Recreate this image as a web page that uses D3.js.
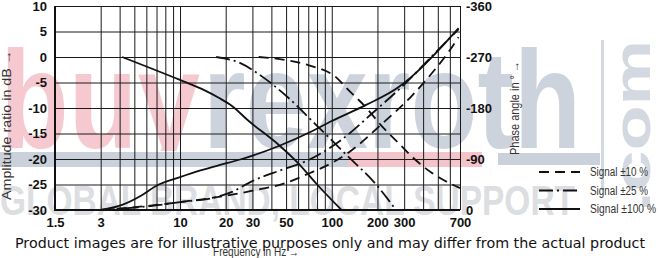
<html>
<head>
<meta charset="utf-8">
<script src="https://cdn.jsdelivr.net/npm/d3@7/dist/d3.min.js"></script>
<style>
body { margin:0; background:#fff; }
svg { display:block; }
.grid .domain { display:none; }
.grid line { stroke:#1a1a1a; stroke-width:1; }
.tick text { font-family:"Liberation Sans Narrow","Arial Narrow","Liberation Sans",sans-serif; font-weight:bold; font-size:13px; fill:#111; }
.lbl { font-family:"Liberation Sans Narrow","Arial Narrow","Liberation Sans",sans-serif; font-size:12px; fill:#333; }
</style>
</head>
<body>
<svg id="chart" width="659" height="258"></svg>
<script>
// tick labels / grid
var xTicks=[1.5,3,10,20,30,50,100,200,300,700];
var xGrid=[3,4,5,6,7,8,9,10,20,30,40,50,60,70,80,90,100,200,300,400,500,600,700];
var ampTicks=[10,5,0,-5,-10,-15,-20,-25,-30];
var phaseTicks=[-360,-270,-180,-90,0];
var signals=["Signal ±10 %","Signal ±25 %","Signal ±100 %"];

// amplitude ratio (dB) vs frequency (Hz)
var amp10Freq=[33,50,70,106,129,167,210,276,357,455,700];
var amp10Val=[0,-0.6,-1.6,-3.9,-6.5,-9.8,-13.3,-16.9,-20.2,-22.7,-25.7];
var amp25Freq=[17.3,25,35,50,80,125,200,265];
var amp25Val=[0,-1.2,-3.9,-7.6,-13.5,-19.2,-25.3,-30];
var amp100Freq=[4.15,10,14,18,22,28,45,60,80,116];
var amp100Val=[0,-4.5,-6.3,-8,-9.6,-12.4,-17.3,-20.8,-25,-30];

// phase angle (deg) vs frequency (Hz)
var ph10Freq=[3,6,10,20,30,50,70,100,130,210,336,452,589,685];
var ph10Val=[0,-7,-14,-25,-34,-48,-64,-83,-102,-150,-201,-240,-279,-305];
var ph25Freq=[3,6.9,10,17.5,22,30,47,70,116,189,307,452,685];
var ph25Val=[0,-8,-14,-23,-32,-51,-71,-88,-124,-173,-224,-270,-319];
var ph100Freq=[3,4.15,5.6,6.9,10,13.3,17.5,25.6,44.8,74,100,167,276,335,685];
var ph100Val=[0,-9,-26,-42,-58,-69,-78,-90,-113,-139,-157,-185,-217,-235,-321];

var svg=d3.select("#chart");
var pLeft=55,pRight=460,pTop=6,pBottom=210;

var x=d3.scaleLog().domain([1.5,700]).range([pLeft,pRight]);
var yA=d3.scaleLinear().domain([-30,10]).range([pBottom,pTop]);
var yP=d3.scaleLinear().domain([0,-360]).range([pBottom,pTop]);

svg.append("rect").attr("width",659).attr("height",258).attr("fill","#fff");

// watermark
var wm=svg.append("g");
wm.append("clipPath").attr("id","wmclip").append("rect").attr("x",0).attr("y",0).attr("width",659).attr("height",151);
var big=wm.append("g").attr("clip-path","url(#wmclip)")
    .style("font-family","'Liberation Sans',sans-serif").style("font-weight","bold").style("font-size","140px");
big.append("text").text("buy").attr("x",0).attr("y",148)
    .attr("textLength",200).attr("lengthAdjust","spacingAndGlyphs").attr("fill","#f6c9d0");
big.append("text").text("rexroth").attr("x",203).attr("y",148)
    .attr("textLength",378).attr("lengthAdjust","spacingAndGlyphs").attr("fill","#cdd3dd");
wm.append("text").text(".com").attr("transform","translate(650,212) rotate(-90)")
    .attr("textLength",172).attr("lengthAdjust","spacingAndGlyphs")
    .style("font-family","'Liberation Sans',sans-serif").style("font-weight","bold").style("font-size","52px")
    .attr("fill","#d3d8e1");
wm.append("rect").attr("x",601).attr("y",40).attr("width",3).attr("height",150).attr("fill","#d3d8e1");
wm.append("rect").attr("x",0).attr("y",152).attr("width",348).attr("height",15).attr("fill","#cbd1db");
wm.append("rect").attr("x",348).attr("y",152).attr("width",134).attr("height",15).attr("fill","#f4c4cb");
wm.append("rect").attr("x",498).attr("y",153).attr("width",102).attr("height",12).attr("fill","#cbd1db");
wm.append("text").text("GLOBAL BRAND, LOCAL SUPPORT").attr("x",0).attr("y",215)
    .attr("textLength",575).attr("lengthAdjust","spacingAndGlyphs")
    .style("font-family","'Liberation Sans',sans-serif").style("font-weight","bold").style("font-size","42px")
    .attr("fill","#dcdee2");

// grid + axes
var gx=svg.append("g").attr("class","grid").attr("transform",`translate(0,${pBottom})`)
    .call(d3.axisBottom(x).tickValues(xGrid.concat([1.5])).tickSize(-(pBottom-pTop)).tickPadding(8)
        .tickFormat(function(d){ return xTicks.indexOf(d)>=0 ? String(d) : ""; }));

var gy=svg.append("g").attr("class","grid").attr("transform",`translate(${pLeft},0)`)
    .call(d3.axisLeft(yA).tickValues(ampTicks).tickSize(-(pRight-pLeft)).tickPadding(8)
        .tickFormat(function(d){ return String(d); }));
gy.selectAll(".tick line").attr("stroke-width",function(d){ return d==0 ? 2.5 : (d==-20 ? 2 : 1); });

svg.append("g").attr("class","grid").attr("transform",`translate(${pRight},0)`)
    .call(d3.axisRight(yP).tickValues(phaseTicks).tickSize(0).tickPadding(6)
        .tickFormat(function(d){ return String(d); }));

svg.append("line").attr("x1",pLeft).attr("x2",pLeft).attr("y1",pTop).attr("y2",pBottom+1)
    .attr("stroke","#111").attr("stroke-width",2);
svg.append("line").attr("x1",pLeft-1).attr("x2",pRight).attr("y1",pBottom).attr("y2",pBottom)
    .attr("stroke","#111").attr("stroke-width",2);

// curves
svg.append("clipPath").attr("id","plot").append("rect")
    .attr("x",pLeft).attr("y",pTop-2).attr("width",pRight-pLeft).attr("height",pBottom-pTop+2);
var dashes=["10,6","14,4,2,4",null];
function drawCurve(freq,vals,yScale,dash){
    var line=d3.line().x(function(d){ return x(d[0]); }).y(function(d){ return yScale(d[1]); })
        .curve(d3.curveMonotoneX);
    svg.append("path").datum(d3.zip(freq,vals)).attr("d",line)
        .attr("fill","none").attr("stroke","#111").attr("stroke-width",1.8)
        .attr("stroke-dasharray",dash).attr("clip-path","url(#plot)");
}
drawCurve(amp10Freq,amp10Val,yA,dashes[0]);
drawCurve(amp25Freq,amp25Val,yA,dashes[1]);
drawCurve(amp100Freq,amp100Val,yA,dashes[2]);
drawCurve(ph10Freq,ph10Val,yP,dashes[0]);
drawCurve(ph25Freq,ph25Val,yP,dashes[1]);
drawCurve(ph100Freq,ph100Val,yP,dashes[2]);

// axis titles
svg.append("text").attr("class","lbl").text("Amplitude ratio in dB →")
    .attr("transform","translate(11,125) rotate(-90)").attr("text-anchor","middle")
    .attr("textLength",150).attr("lengthAdjust","spacingAndGlyphs");
svg.append("text").attr("class","lbl").text("Phase angle in ° →")
    .attr("transform","translate(519,108) rotate(-90)").attr("text-anchor","middle")
    .attr("textLength",94).attr("lengthAdjust","spacingAndGlyphs");
svg.append("text").attr("class","lbl").text("Frequency in Hz →")
    .attr("x",213).attr("y",256).attr("textLength",86).attr("lengthAdjust","spacingAndGlyphs");

// legend
var legW=[58,58,66];
signals.forEach(function(s,i){
    var ly=172+i*18.5;
    svg.append("line").attr("x1",539).attr("x2",580).attr("y1",ly).attr("y2",ly)
        .attr("stroke","#111").attr("stroke-width",2).attr("stroke-dasharray",dashes[i]);
    svg.append("text").attr("class","lbl").text(s).attr("x",590).attr("y",ly+4)
        .attr("textLength",legW[i]).attr("lengthAdjust","spacingAndGlyphs");
});

svg.append("text").text("Product images are for illustrative purposes only and may differ from the actual product")
    .attr("x",15).attr("y",248).attr("textLength",630).attr("lengthAdjust","spacingAndGlyphs")
    .style("font-family","'DejaVu Sans',sans-serif").style("font-size","14px").attr("fill","#111");
</script>
</body>
</html>
